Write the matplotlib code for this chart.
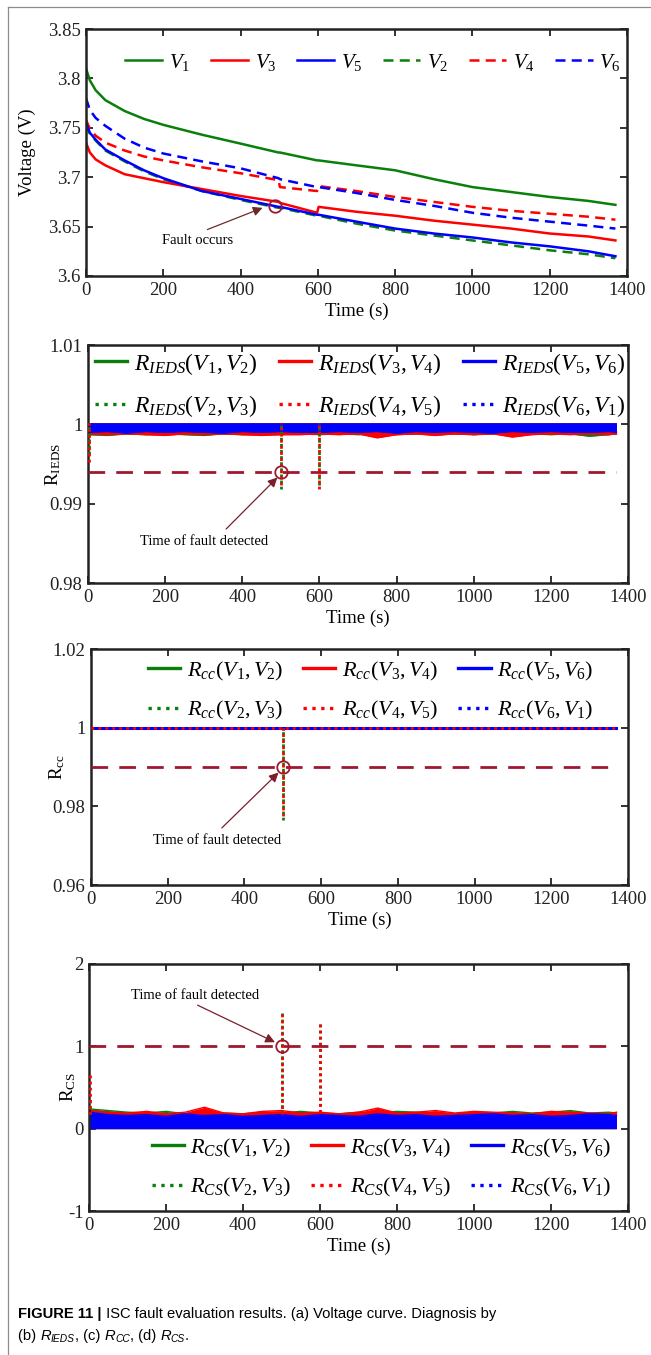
import numpy as np
import matplotlib
matplotlib.use('Agg')
import matplotlib.pyplot as plt
from matplotlib.lines import Line2D
import matplotlib.transforms as mtransforms

plt.rcParams['font.family'] = 'Liberation Serif'
plt.rcParams['mathtext.fontset'] = 'custom'
plt.rcParams['mathtext.rm'] = 'Liberation Serif'
plt.rcParams['mathtext.it'] = 'Liberation Serif:italic'
plt.rcParams['mathtext.bf'] = 'Liberation Serif:bold'

#### DATA ####
# (a) voltage curves
t_v = [0, 10, 25, 50, 100, 150, 200, 300, 400, 498, 502, 598, 602, 700, 800, 900, 1000, 1100, 1200, 1300, 1370]
V1 = [3.810, 3.798, 3.788, 3.778, 3.767, 3.759, 3.753, 3.743, 3.734, 3.725, 3.725, 3.717, 3.717, 3.712, 3.707, 3.698, 3.690, 3.685, 3.680, 3.676, 3.672]
V2 = [3.753, 3.744, 3.737, 3.727, 3.716, 3.706, 3.698, 3.686, 3.677, 3.669, 3.669, 3.661, 3.661, 3.653, 3.646, 3.641, 3.636, 3.631, 3.626, 3.622, 3.618]
V3 = [3.735, 3.725, 3.718, 3.712, 3.703, 3.699, 3.695, 3.688, 3.681, 3.675, 3.674, 3.664, 3.670, 3.665, 3.661, 3.656, 3.652, 3.648, 3.643, 3.640, 3.636]
V4 = [3.758, 3.749, 3.742, 3.735, 3.727, 3.721, 3.717, 3.710, 3.704, 3.697, 3.690, 3.686, 3.691, 3.686, 3.680, 3.675, 3.670, 3.666, 3.663, 3.660, 3.657]
V5 = [3.755, 3.745, 3.738, 3.728, 3.717, 3.707, 3.699, 3.686, 3.678, 3.670, 3.670, 3.662, 3.662, 3.655, 3.648, 3.643, 3.639, 3.634, 3.630, 3.625, 3.620]
V6 = [3.780, 3.768, 3.760, 3.752, 3.739, 3.730, 3.724, 3.716, 3.709, 3.699, 3.698, 3.690, 3.690, 3.684, 3.677, 3.671, 3.664, 3.659, 3.655, 3.651, 3.648]
fault_t, fault_v = 490, 3.671

# noise bands of the diagnosis indices, sampled every 50 s
t_band = [0, 50, 100, 150, 200, 250, 300, 350, 400, 450, 500, 550, 600, 650, 700,
          750, 800, 850, 900, 950, 1000, 1050, 1100, 1150, 1200, 1250, 1300, 1350, 1370]

# (b) R_IEDS : band top and lower edges of each colour
ieds_top = 1.0002
ieds_lo_g = [0.9987, 0.9986, 0.9988, 0.9987, 0.9988, 0.9987, 0.9986, 0.9988, 0.9987, 0.9988, 0.9987, 0.9988, 0.9987, 0.9988,
             0.9987, 0.9988, 0.9987, 0.9988, 0.9987, 0.9988, 0.9987, 0.9988, 0.9987, 0.9988, 0.9987, 0.9988, 0.9985, 0.9987, 0.9988]
ieds_lo_r = [0.9988, 0.9987, 0.9988, 0.9987, 0.9986, 0.9988, 0.9987, 0.9988, 0.9987, 0.9986, 0.9987, 0.9987, 0.9988, 0.9987,
             0.9988, 0.9983, 0.9987, 0.9988, 0.9986, 0.9988, 0.9987, 0.9988, 0.9984, 0.9987, 0.9988, 0.9987, 0.9988, 0.9987, 0.9988]
ieds_lo_b = [0.9990, 0.9991, 0.9989, 0.9991, 0.9990, 0.9991, 0.9990, 0.9989, 0.9991, 0.9990, 0.9991, 0.9990, 0.9990, 0.9991,
             0.9990, 0.9991, 0.9989, 0.9991, 0.9990, 0.9991, 0.9990, 0.9989, 0.9991, 0.9990, 0.9991, 0.9990, 0.9990, 0.9991, 0.9990]
ieds_spk_t = [3, 500, 600]
ieds_spk_g = [0.9963, 0.9919, 0.9924]
ieds_spk_r = [0.9949, 0.9920, 0.9915]
ieds_thr = 0.994

# (c) R_cc
cc_level = 1.0
cc_spk_t = [500]
cc_spk_g = [0.9765]
cc_spk_r = [0.9768]
cc_thr = 0.99

# (d) R_CS : band upper edges of each colour (band starts at 0)
cs_hi_g = [0.24, 0.22, 0.20, 0.19, 0.21, 0.18, 0.20, 0.19, 0.18, 0.20, 0.19, 0.21, 0.19, 0.18, 0.20,
           0.19, 0.21, 0.20, 0.19, 0.18, 0.20, 0.19, 0.21, 0.19, 0.20, 0.22, 0.19, 0.20, 0.19]
cs_hi_r = [0.22, 0.20, 0.19, 0.21, 0.18, 0.20, 0.26, 0.19, 0.18, 0.21, 0.22, 0.19, 0.20, 0.18, 0.20,
           0.25, 0.19, 0.20, 0.22, 0.19, 0.21, 0.20, 0.19, 0.18, 0.21, 0.20, 0.19, 0.18, 0.20]
cs_hi_b = [0.20, 0.17, 0.16, 0.17, 0.15, 0.18, 0.16, 0.17, 0.15, 0.16, 0.17, 0.15, 0.17, 0.16, 0.15,
           0.18, 0.16, 0.17, 0.15, 0.16, 0.17, 0.18, 0.16, 0.17, 0.15, 0.16, 0.18, 0.17, 0.16]
cs_base = 0.18
cs_spk_t = [3, 500, 600]
cs_spk_g = [0.35, 1.40, 1.27]
cs_spk_r = [0.69, 1.43, 1.31]
cs_thr = 1.0

GREEN, RED, BLUE = '#0a800a', '#ff0000', '#0000ff'
DARKRED = '#a0182f'
ARROW = '#7a1f2b'
W, H = 651, 1355

fig = plt.figure(figsize=(W / 100, H / 100), dpi=100)


def px_axes(l, t, r, b):
    return fig.add_axes([l / W, 1 - b / H, (r - l) / W, (b - t) / H])


def style(ax, yticks, ylabels, ylabel, ylab_x):
    ax.set_xlim(0, 1400)
    ax.set_xticks([0, 200, 400, 600, 800, 1000, 1200, 1400])
    ax.set_ylim(yticks[0], yticks[-1])
    ax.set_yticks(yticks)
    ax.set_yticklabels(ylabels)
    ax.tick_params(direction='in', top=True, right=True, length=5, width=1.3,
                   labelsize=13.5, pad=4, colors='#222222')
    for s in ax.spines.values():
        s.set_linewidth(1.8)
        s.set_color('#222222')
    ax.set_xlabel('Time (s)', fontsize=13.5, labelpad=3)
    ax.set_ylabel(ylabel, fontsize=13.5)
    ax.yaxis.set_label_coords(ylab_x, 0.5)


def mark(ax, x, y, text, txy, tail, head, color=ARROW):
    ax.plot([x], [y], 'o', mfc='none', mec=DARKRED, ms=9, mew=1.3, zorder=6)
    ax.text(txy[0], txy[1], text, fontsize=10.5, ha='center', va='center', zorder=7)
    ax.annotate('', xy=head, xytext=tail, zorder=7,
                arrowprops=dict(arrowstyle='-|>', color=color, lw=0.9, mutation_scale=14,
                                shrinkA=0, shrinkB=0))


def legend(ax, handles, labels, ncol, center, size=16, hlen=1.45, spacing=0.75, colsp=0.9):
    ax.legend(handles, labels, ncol=ncol, loc='center', bbox_to_anchor=center, frameon=False,
              fontsize=size, handlelength=hlen, handletextpad=0.3, columnspacing=colsp,
              labelspacing=spacing, borderpad=0, borderaxespad=0)


# ---- (a) voltage ----
ax1 = px_axes(86, 29, 627, 276)
kw = dict(lw=1.8)
h1, = ax1.plot(t_v, V1, color=GREEN, **kw)
h2, = ax1.plot(t_v, V2, color=GREEN, ls=(0, (4, 2.5)), **kw)
h3, = ax1.plot(t_v, V3, color=RED, **kw)
h4, = ax1.plot(t_v, V4, color=RED, ls=(0, (4, 2.5)), **kw)
h5, = ax1.plot(t_v, V5, color=BLUE, **kw)
h6, = ax1.plot(t_v, V6, color=BLUE, ls=(0, (4, 2.5)), **kw)
style(ax1, [3.6, 3.65, 3.7, 3.75, 3.8, 3.85], ['3.6', '3.65', '3.7', '3.75', '3.8', '3.85'],
      'Voltage (V)', -0.092)
legend(ax1, [h1, h3, h5, h2, h4, h6],
       [r'$V_1$', r'$V_3$', r'$V_5$', r'$V_2$', r'$V_4$', r'$V_6$'], 6, (0.53, 0.866),
       size=15, hlen=1.8, spacing=0.25, colsp=1.0)
mark(ax1, fault_t, fault_v, 'Fault occurs', (288, 3.636), (314, 3.647), (457, 3.669), '#6b2a2a')


def pair_labels(sub):
    pairs = [(1, 2), (2, 3), (3, 4), (4, 5), (5, 6), (6, 1)]
    return [r'$R_{%s}(V_%d,V_%d)$' % (sub, a, b) for a, b in pairs]


def noise_panel(ax, edges, base, spk_t, spk_g, spk_r, upward):
    # bands: green, red, then blue on top
    for c, edge in zip([GREEN, RED, BLUE], edges):
        if upward:
            ax.fill_between(t_band, 0, edge, color=c, lw=0, zorder=2)
        else:
            ax.fill_between(t_band, edge, base, color=c, lw=0, zorder=2)
        ax.plot(t_band, edge, color=c, lw=1.0, zorder=2)
    ax.vlines(spk_t, spk_g, base, colors=GREEN, linestyles=(0, (1, 1.2)), lw=2.0, zorder=4)
    ax.vlines(spk_t, spk_r, base, colors=RED, linestyles=(1.1, (1, 1.2)), lw=2.0, zorder=4)


solid = [Line2D([], [], color=c, lw=2.4) for c in (GREEN, RED, BLUE)]
dots = [Line2D([], [], color=c, ls=':', lw=2.4) for c in (GREEN, RED, BLUE)]
handles6 = [solid[0], dots[0], solid[1], dots[1], solid[2], dots[2]]

# ---- (b) R_IEDS ----
ax2 = px_axes(88, 345, 628, 583)
noise_panel(ax2, [ieds_lo_g, ieds_lo_r, ieds_lo_b], ieds_top,
            ieds_spk_t, ieds_spk_g, ieds_spk_r, False)
ax2.plot([0, 1370], [ieds_thr, ieds_thr], color=DARKRED, lw=2.0, dashes=(6, 4), zorder=5)
style(ax2, [0.98, 0.99, 1.0, 1.01], ['0.98', '0.99', '1', '1.01'], r'$\mathrm{R_{IEDS}}$', -0.046)
legend(ax2, handles6, pair_labels('IEDS'), 3, (0.504, 0.832), size=17, hlen=1.35, spacing=0.7)
mark(ax2, 500, ieds_thr, 'Time of fault detected', (300, 0.9852), (358, 0.9868), (491, 0.9933))

# ---- (c) R_cc ----
ax3 = px_axes(91, 649, 628, 885)
ax3.plot([0, 1370], [cc_level, cc_level], color=GREEN, lw=2.0, zorder=2)
ax3.plot([0, 1370], [cc_level, cc_level], color=RED, lw=2.0, zorder=2)
ax3.plot([0, 1370], [cc_level, cc_level], color=BLUE, lw=2.2, zorder=3)
ax3.plot([0, 1370], [cc_level, cc_level], color=RED, lw=2.0, ls=(0, (1, 1.5)), zorder=4)
ax3.vlines(cc_spk_t, cc_spk_g, cc_level, colors=GREEN, linestyles=(0, (1, 1.2)), lw=2.0, zorder=4)
ax3.vlines(cc_spk_t, cc_spk_r, cc_level, colors=RED, linestyles=(1.1, (1, 1.2)), lw=2.0, zorder=4)
ax3.plot([0, 1370], [cc_thr, cc_thr], color=DARKRED, lw=2.0, dashes=(6, 4), zorder=5)
style(ax3, [0.96, 0.98, 1.0, 1.02], ['0.96', '0.98', '1', '1.02'], r'$\mathrm{R_{cc}}$', -0.045)
legend(ax3, handles6, pair_labels('cc'), 3, (0.521, 0.822))
mark(ax3, 500, cc_thr, 'Time of fault detected', (328, 0.9714), (341, 0.9745), (489, 0.9886))

# ---- (d) R_CS ----
ax4 = px_axes(89, 964, 628, 1211)
noise_panel(ax4, [cs_hi_g, cs_hi_r, cs_hi_b], cs_base,
            cs_spk_t, cs_spk_g, cs_spk_r, True)
ax4.plot([0, 1370], [cs_thr, cs_thr], color=DARKRED, lw=2.0, dashes=(6, 4), zorder=5)
style(ax4, [-1, 0, 1, 2], ['-1', '0', '1', '2'], r'$\mathrm{R_{CS}}$', -0.02)
legend(ax4, handles6, pair_labels('CS'), 3, (0.542, 0.174))
mark(ax4, 500, cs_thr, 'Time of fault detected', (275, 1.62), (282, 1.50), (483, 1.05))

# ---- page frame ----
fig.add_artist(Line2D([8 / W, 8 / W], [0, 1 - 7 / H], color='#8c8c8c', lw=0.9))
fig.add_artist(Line2D([8 / W, 1], [1 - 7 / H, 1 - 7 / H], color='#8c8c8c', lw=0.9))

# ---- caption ----
rend = fig.canvas.get_renderer()
ident = mtransforms.IdentityTransform()


def put_runs(x, y, runs):
    for txt, kw, dy in runs:
        t = fig.text(x, y + dy, txt, transform=ident, family='Liberation Sans',
                     va='baseline', ha='left', **kw)
        x = t.get_window_extent(rend).x1


cs = 10.6
cap = dict(fontsize=cs)
ital = dict(fontsize=cs, style='italic')
sub = dict(fontsize=cs * 0.7, style='italic')
put_runs(18, 37, [('FIGURE 11 |', dict(fontsize=cs, weight='bold'), 0),
                  (' ISC fault evaluation results. (a) Voltage curve. Diagnosis by', cap, 0)])
put_runs(18, 15, [('(b) ', cap, 0), ('R', ital, 0), ('IEDS', sub, -2),
                  (', (c) ', cap, 0), ('R', ital, 0), ('CC', sub, -2),
                  (', (d) ', cap, 0), ('R', ital, 0), ('CS', sub, -2),
                  ('.', cap, 0)])

fig.savefig('out.png', dpi=100)
